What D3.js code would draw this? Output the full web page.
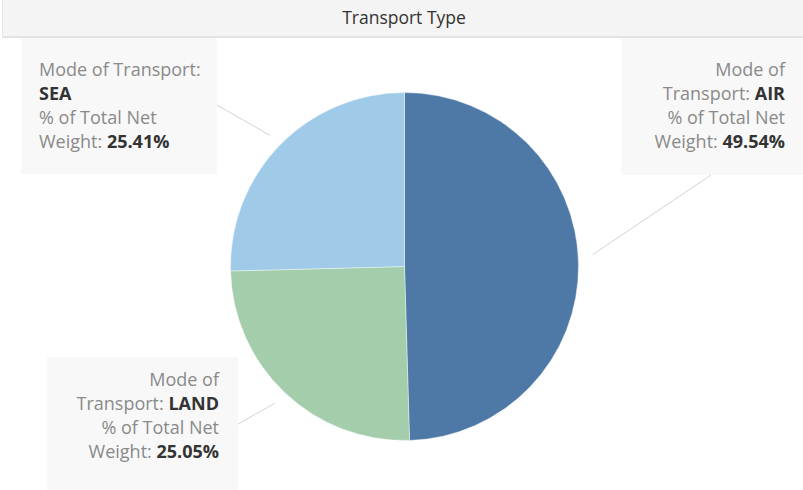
<!DOCTYPE html>
<html>
<head>
<meta charset="utf-8">
<script src="https://cdn.jsdelivr.net/npm/d3@7"></script>
<style>
  html, body { margin: 0; padding: 0; background: #fff; }
  svg { display: block; }
  text { font-family: "Open Sans", Lato, sans-serif; }
</style>
</head>
<body>
<svg id="chart" width="803" height="490"></svg>
<script>
// ---- data ----
const title = "Transport Type";
const modes = ["AIR", "LAND", "SEA"];
const pctNetWeight = [49.54, 25.05, 25.41];
const colors = ["#4e79a7", "#a3cdab", "#a0cbe8"];

// ---- layout ----
const W = 803, H = 490;
const cx = 404.5, cy = 266.5, R = 174;
const boxes = {
  AIR:  { x: 621, y: 38,  w: 182, h: 137, align: "end",   tx: 785, ty: 76,  anchor: [711, 175] },
  SEA:  { x: 21,  y: 38,  w: 196, h: 136, align: "start", tx: 39,  ty: 76,  anchor: [217, 105] },
  LAND: { x: 47,  y: 357, w: 191, h: 133, align: "end",   tx: 219, ty: 386, anchor: [238, 424] }
};
const lineLayout = {
  AIR:  [["Mode of", ""], ["Transport: ", "AIR"], ["% of Total Net", ""], ["Weight: ", "49.54%"]],
  SEA:  [["Mode of Transport:", ""], ["", "SEA"], ["% of Total Net", ""], ["Weight: ", "25.41%"]],
  LAND: [["Mode of", ""], ["Transport: ", "LAND"], ["% of Total Net", ""], ["Weight: ", "25.05%"]]
};
const lineH = 24;

const svg = d3.select("#chart");

// title bar
svg.append("rect").attr("x", 2).attr("y", 0).attr("width", W - 2).attr("height", 36)
  .attr("fill", "#f4f4f4");
svg.append("line").attr("x1", 2).attr("x2", W).attr("y1", 37).attr("y2", 37)
  .attr("stroke", "#e3e3e3").attr("stroke-width", 2);
svg.append("line").attr("x1", 2.5).attr("x2", 2.5).attr("y1", 0).attr("y2", 38)
  .attr("stroke", "#e6e6e6").attr("stroke-width", 1);
svg.append("text").attr("x", 404).attr("y", 24).attr("text-anchor", "middle")
  .attr("font-size", 17.5).attr("fill", "#333").text(title);

// pie
const data = modes.map((m, i) => ({ mode: m, value: pctNetWeight[i], color: colors[i] }));
const pie = d3.pie().value(d => d.value).sort(null);
const arcs = pie(data);
const arc = d3.arc().innerRadius(0).outerRadius(R);
const outer = d3.arc().innerRadius(R + 14).outerRadius(R + 14);

// label boxes
arcs.forEach(a => {
  const b = boxes[a.data.mode];
  svg.append("rect").attr("x", b.x).attr("y", b.y).attr("width", b.w).attr("height", b.h)
    .attr("fill", "#f8f8f8");
});

const g = svg.append("g").attr("transform", `translate(${cx},${cy})`);
g.selectAll("path").data(arcs).join("path")
  .attr("d", arc).attr("fill", d => d.data.color)
  .attr("stroke", "#fff").attr("stroke-width", 0.4);

// leader lines + text
arcs.forEach(a => {
  const b = boxes[a.data.mode];
  const [px, py] = outer.centroid(a);
  svg.append("line")
    .attr("x1", cx + px).attr("y1", cy + py - (a.data.mode === "AIR" ? 9 : 0))
    .attr("x2", b.anchor[0]).attr("y2", b.anchor[1])
    .attr("stroke", "#d4d4d4").attr("stroke-width", 1);
  const lines = lineLayout[a.data.mode];
  lines.forEach((ln, i) => {
    const t = svg.append("text").attr("x", b.tx).attr("y", b.ty + i * lineH)
      .attr("text-anchor", b.align).attr("font-size", 18);
    if (ln[0]) t.append("tspan").attr("fill", "#8a8a8a").text(ln[0]);
    if (ln[1]) t.append("tspan").attr("fill", "#333").attr("font-weight", "bold").text(ln[1]);
  });
});
</script>
</body>
</html>
